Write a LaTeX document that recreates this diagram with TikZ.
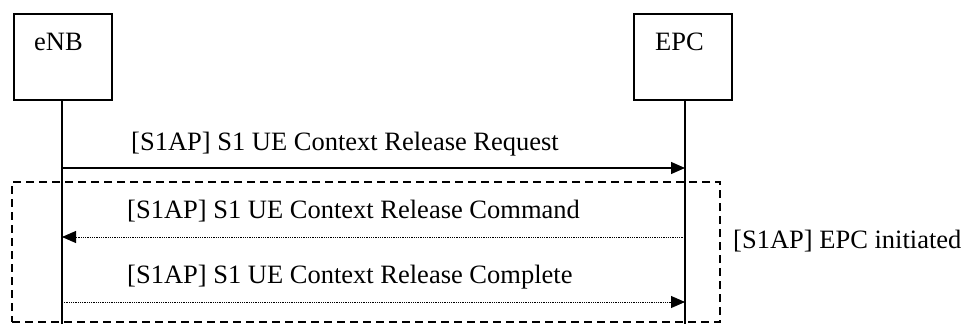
\documentclass[tikz,border=0pt]{standalone}
\usepackage{fontspec}
\setmainfont{Liberation Serif}
\usetikzlibrary{arrows.meta}
\begin{document}
\begin{tikzpicture}[x=1pt,y=-1pt,
  lbl/.style={anchor=base west,inner sep=0pt,font=\fontsize{26.5}{31}\selectfont},
  entity/.style={draw,line width=1.6pt,minimum width=98pt,minimum height=86pt,inner sep=0pt},
  life/.style={line width=1.6pt},
  msg/.style={line width=1.2pt,-{Triangle[length=14pt,width=12pt]}},
  dmsg/.style={line width=0.9pt,dash pattern=on 0.9pt off 0.9pt,-{Triangle[length=14pt,width=12pt,sep=0pt]}},
  grp/.style={line width=1.4pt,dash pattern=on 8pt off 5pt}]
\useasboundingbox (0,0) rectangle (963,324);
\node[entity] (enb) at (63,57) {};
\node[entity] (epc) at (683,57) {};
\node[lbl] (enbt) at (34,50) {eNB};
\node[lbl] (epct) at (655,50) {EPC};
\coordinate (enbend) at (62,324);
\coordinate (epcend) at (685,324);
\draw[life] (62,100) -- (enbend);
\draw[life] (685,100) -- (epcend);
\coordinate (a1s) at (62,168); \coordinate (a1e) at (685,168);
\coordinate (a2s) at (685,237); \coordinate (a2e) at (62,237);
\coordinate (a3s) at (62,302); \coordinate (a3e) at (685,302);
\node[lbl] (l1) at (131,150) {[S1AP] S1 UE Context Release Request};
\node[lbl] (l2) at (127,218) {[S1AP] S1 UE Context Release Command};
\node[lbl] (l3) at (127,283) {[S1AP] S1 UE Context Release Complete};
\draw[msg] (a1s) -- (a1e);
\draw[dmsg] (a2s) -- (a2e);
\draw[dmsg] (a3s) -- (a3e);
\node[draw,grp,minimum width=708pt,minimum height=140pt,inner sep=0pt] (grpbox) at (366,252) {};
\node[lbl] (gl) at (733,248) {[S1AP] EPC initiated};
\end{tikzpicture}
\end{document}
